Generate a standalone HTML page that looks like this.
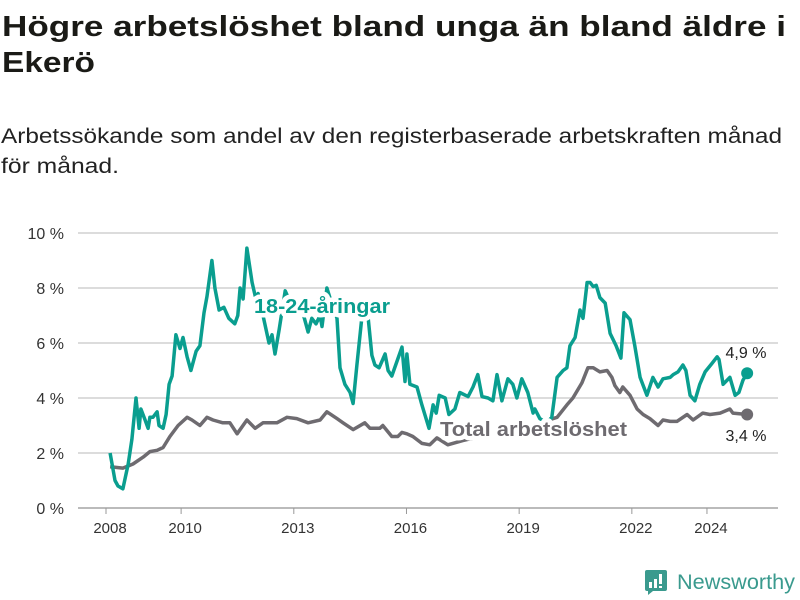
<!DOCTYPE html>
<html><head><meta charset="utf-8"><style>
body{margin:0;background:#fff;}
svg{display:block;font-family:"Liberation Sans",sans-serif;}
</style></head><body>
<svg id="chart" width="800" height="600" viewBox="0 0 800 600">
<rect width="800" height="600" fill="#fff"/>
<text x="2" y="36" font-size="29" font-weight="bold" fill="#1a1a16" textLength="784" lengthAdjust="spacingAndGlyphs">Högre arbetslöshet bland unga än bland äldre i</text>
<text x="2" y="72" font-size="29" font-weight="bold" fill="#1a1a16" textLength="93" lengthAdjust="spacingAndGlyphs">Ekerö</text>
<text x="1" y="143" font-size="21" fill="#222" textLength="781" lengthAdjust="spacingAndGlyphs">Arbetssökande som andel av den registerbaserade arbetskraften månad</text>
<text x="1" y="173" font-size="21" fill="#222" textLength="118" lengthAdjust="spacingAndGlyphs">för månad.</text>
<g id="grid"></g><g id="yticks"></g><g id="xticks"></g><g id="lines"></g><g id="labels"></g>
<g transform="translate(645,570)">
<path d="M0 2 Q0 0 2 0 H20 Q22 0 22 2 V19 Q22 21 20 21 H8 L3 25 V21 H2 Q0 21 0 19Z" fill="#3a9a8e"/>
<rect x="4" y="12" width="3" height="6" fill="#fff"/><rect x="9" y="9" width="3" height="9" fill="#fff"/><rect x="14" y="4" width="3" height="10" fill="#fff"/><rect x="14" y="16" width="3" height="2" fill="#fff"/>
<text x="32" y="19" font-size="21" fill="#3a9a8e" textLength="118" lengthAdjust="spacingAndGlyphs">Newsworthy</text>
</g>
</svg>
<script>
const yTicks=[0,2,4,6,8,10];
const xTickYears=[2008,2010,2013,2016,2019,2022,2024];
const youthT=[2008.11,2008.24,2008.32,2008.45,2008.59,2008.69,2008.80,2008.88,2008.93,2009.04,2009.12,2009.17,2009.25,2009.36,2009.41,2009.52,2009.60,2009.68,2009.76,2009.86,2009.97,2010.05,2010.16,2010.26,2010.40,2010.50,2010.61,2010.69,2010.82,2010.90,2011.01,2011.14,2011.27,2011.43,2011.51,2011.57,2011.65,2011.75,2011.89,2011.99,2012.05,2012.18,2012.34,2012.42,2012.50,2012.61,2012.77,2012.90,2013.06,2013.22,2013.38,2013.48,2013.59,2013.70,2013.75,2013.88,2014.04,2014.15,2014.23,2014.36,2014.50,2014.58,2014.68,2014.84,2014.98,2015.08,2015.16,2015.27,2015.43,2015.51,2015.61,2015.88,2015.96,2016.01,2016.09,2016.28,2016.41,2016.60,2016.71,2016.79,2016.87,2017.03,2017.13,2017.29,2017.42,2017.64,2017.77,2017.90,2018.01,2018.17,2018.30,2018.41,2018.54,2018.70,2018.83,2018.94,2019.07,2019.23,2019.37,2019.42,2019.55,2019.74,2019.87,2020.01,2020.17,2020.27,2020.35,2020.49,2020.62,2020.70,2020.81,2020.89,2020.97,2021.05,2021.15,2021.29,2021.42,2021.58,2021.71,2021.79,2021.95,2022.08,2022.22,2022.40,2022.56,2022.70,2022.83,2023.02,2023.10,2023.23,2023.36,2023.44,2023.55,2023.68,2023.81,2023.95,2024.13,2024.27,2024.32,2024.43,2024.61,2024.75,2024.85,2024.96,2025.07];
const youthV=[2.0,1.0,0.8,0.7,1.6,2.5,4.0,2.9,3.6,3.2,2.9,3.3,3.3,3.5,3.0,2.9,3.4,4.5,4.8,6.3,5.8,6.2,5.5,5.0,5.7,5.9,7.1,7.7,9.0,8.0,7.2,7.3,6.9,6.7,7.0,8.0,7.6,9.45,8.2,7.6,7.8,7.0,6.0,6.3,5.6,6.5,7.9,7.5,7.3,7.2,6.4,6.9,6.7,7.0,6.6,8.0,7.3,6.9,5.1,4.5,4.2,3.8,5.2,7.3,6.9,5.55,5.2,5.1,5.6,5.0,4.8,5.85,4.6,5.6,4.5,4.4,3.75,2.9,3.75,3.45,4.1,4.0,3.4,3.6,4.2,4.05,4.4,4.85,4.05,4.0,3.9,4.85,3.9,4.7,4.5,4.0,4.7,4.2,3.45,3.6,3.25,3.1,3.3,4.75,5.0,5.1,5.9,6.2,7.2,6.9,8.2,8.2,8.05,8.1,7.65,7.45,6.35,5.9,5.45,7.1,6.85,5.9,4.75,4.1,4.75,4.4,4.7,4.75,4.85,4.95,5.2,5.0,4.1,3.9,4.5,4.95,5.25,5.5,5.4,4.5,4.75,4.1,4.2,4.65,4.9];
const totalT=[2008.11,2008.45,2008.72,2008.99,2009.17,2009.36,2009.52,2009.70,2009.92,2010.16,2010.29,2010.50,2010.69,2010.85,2011.11,2011.30,2011.49,2011.75,2011.97,2012.18,2012.55,2012.82,2013.08,2013.38,2013.70,2013.88,2014.15,2014.31,2014.58,2014.89,2015.03,2015.29,2015.37,2015.61,2015.77,2015.88,2016.01,2016.17,2016.41,2016.62,2016.81,2017.10,2017.50,2017.96,2018.49,2019.02,2019.55,2020.01,2020.27,2020.43,2020.67,2020.83,2020.97,2021.15,2021.34,2021.47,2021.55,2021.68,2021.76,2021.95,2022.14,2022.30,2022.48,2022.70,2022.83,2023.02,2023.20,2023.47,2023.63,2023.89,2024.08,2024.35,2024.61,2024.69,2025.07];
const totalV=[1.5,1.45,1.6,1.85,2.05,2.1,2.2,2.6,3.0,3.3,3.2,3.0,3.3,3.2,3.1,3.1,2.7,3.2,2.9,3.1,3.1,3.3,3.25,3.1,3.2,3.5,3.25,3.1,2.85,3.1,2.9,2.9,3.0,2.6,2.6,2.75,2.7,2.6,2.35,2.3,2.55,2.3,2.45,2.6,2.7,2.9,3.1,3.3,3.75,4.0,4.55,5.1,5.1,4.95,5.0,4.75,4.45,4.2,4.4,4.1,3.6,3.4,3.25,3.0,3.2,3.15,3.15,3.4,3.2,3.45,3.4,3.45,3.6,3.45,3.4];
const yLabelFmt=v=>v+" %";
const NS="http://www.w3.org/2000/svg";
const xs=t=>106+(t-2008)*37.56;
const ys=v=>508-v*27.5;
function mk(tag,attrs,parent,txt){const e=document.createElementNS(NS,tag);for(const k in attrs)e.setAttribute(k,attrs[k]);if(txt!==undefined)e.textContent=txt;document.getElementById(parent).appendChild(e);return e;}
yTicks.forEach(v=>{
  const g=mk('line',{x1:78,x2:778,y1:ys(v),y2:ys(v),stroke:v===0?'#bbb':'#dcdcdc','stroke-width':2},'grid');
  
  
  const t=mk('text',{x:64,y:ys(v)+6,'text-anchor':'end','font-size':16,fill:'#333'},'yticks',yLabelFmt(v));
  
  
});
xTickYears.forEach(y=>{
  const tk=mk('line',{x1:xs(y),x2:xs(y),y1:508,y2:514,stroke:'#999','stroke-width':1},'xticks');
  
  
  const t=mk('text',{x:xs(y)+4,y:533,'text-anchor':'middle','font-size':15,fill:'#333'},'xticks',String(y));
  
  
});
function path(T,V){return T.map((t,i)=>(i?'L':'M')+xs(t).toFixed(1)+' '+ys(V[i]).toFixed(1)).join(' ');}
const pt=mk('path',{d:path(totalT,totalV),fill:'none',stroke:'#6e6b70','stroke-width':3.5,'stroke-linejoin':'round'},'lines');


const py=mk('path',{d:path(youthT,youthV),fill:'none',stroke:'#0a9e8f','stroke-width':3.5,'stroke-linejoin':'round'},'lines');


const lt=totalT.length-1, ly=youthT.length-1;
const dt=mk('circle',{cx:xs(totalT[lt]),cy:ys(totalV[lt]),r:6,fill:'#6e6b70'},'lines');


const dy=mk('circle',{cx:xs(youthT[ly]),cy:ys(youthV[ly]),r:6,fill:'#0a9e8f'},'lines');


const l1=mk('text',{x:254,y:313,'font-size':20,'font-weight':'bold',fill:'#0a9e8f',stroke:'#fff','stroke-width':9,'paint-order':'stroke','stroke-linejoin':'round',textLength:136,lengthAdjust:'spacingAndGlyphs'},'labels','18-24-åringar');


const l2=mk('text',{x:440,y:436,'font-size':20,'font-weight':'bold',fill:'#6e6b70',stroke:'#fff','stroke-width':9,'paint-order':'stroke','stroke-linejoin':'round',textLength:187,lengthAdjust:'spacingAndGlyphs'},'labels','Total arbetslöshet');


const v1=mk('text',{x:746,y:358,'text-anchor':'middle','font-size':16,fill:'#222'},'labels','4,9 %');


const v2=mk('text',{x:746,y:441,'text-anchor':'middle','font-size':16,fill:'#222'},'labels','3,4 %');


</script>
</body></html>
